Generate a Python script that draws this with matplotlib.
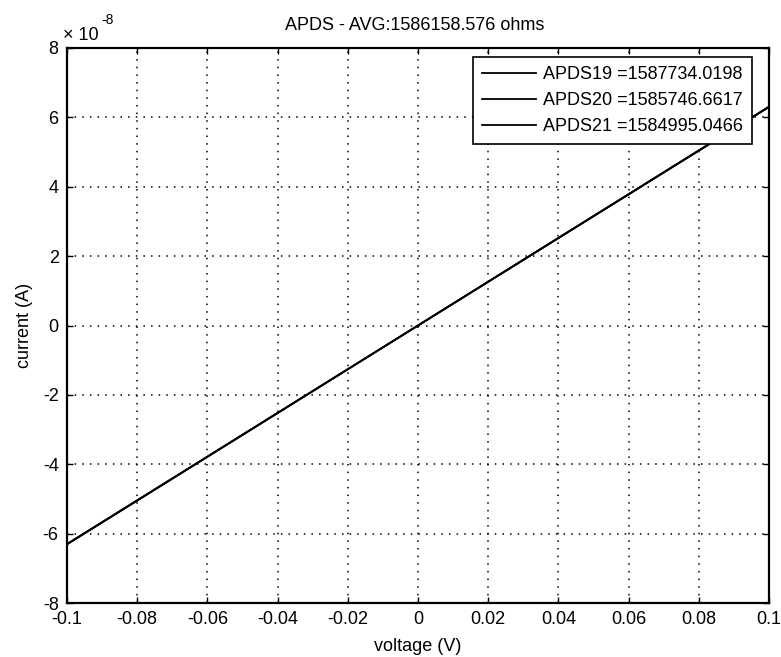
import numpy as np
import matplotlib.pyplot as plt
from matplotlib.ticker import FuncFormatter

plt.rcParams['font.family'] = ['Liberation Sans', 'DejaVu Sans']
plt.rcParams['axes.unicode_minus'] = False

# sweep (V) and currents (A) for each device
voltage = [-0.1, -0.05, 0.0, 0.05, 0.1]
apds19 = [-6.298e-8, -3.149e-8, 0.0, 3.149e-8, 6.298e-8]
apds20 = [-6.306e-8, -3.153e-8, 0.0, 3.153e-8, 6.306e-8]
apds21 = [-6.309e-8, -3.155e-8, 0.0, 3.155e-8, 6.309e-8]
names = ['APDS19 =1587734.0198', 'APDS20 =1585746.6617', 'APDS21 =1584995.0466']
xticks = [-0.1, -0.08, -0.06, -0.04, -0.02, 0, 0.02, 0.04, 0.06, 0.08, 0.1]
xticklabels = ['-0.1', '-0.08', '-0.06', '-0.04', '-0.02', '0',
               '0.02', '0.04', '0.06', '0.08', '0.1']
title = 'APDS - AVG:1586158.576 ohms'

fig = plt.figure(figsize=(7.81, 6.57), dpi=100)
ax = fig.add_axes([67 / 781, 1 - 603 / 657, 702 / 781, 555 / 657])

for cur, name in zip([apds19, apds20, apds21], names):
    ax.plot(voltage, cur, color='black', linewidth=1.3, label=name)

ax.set_xlim(-0.1, 0.1)
ax.set_ylim(-8e-8, 8e-8)
ax.set_xticks(xticks)
ax.set_xticklabels(xticklabels)
ax.set_yticks(np.arange(-8, 9, 2) * 1e-8)
ax.yaxis.set_major_formatter(FuncFormatter(lambda v, p: '%d' % round(v / 1e-8)))

ax.tick_params(direction='in', top=True, right=True, labelsize=13, length=4, width=1)
ax.tick_params(axis='x', pad=6)
ax.tick_params(axis='y', pad=6)
ax.grid(True, color='black', linewidth=1.1, dashes=(1, 4))
for s in ax.spines.values():
    s.set_linewidth(1.6)

ax.set_xlabel('voltage (V)', fontsize=13, labelpad=7)
ax.set_ylabel('current (A)', fontsize=13, labelpad=7)

# title and exponent placed as in the MATLAB figure
fig.text(0.531, 1 - 25 / 657, title, fontsize=13, ha='center', va='center')
fig.text(63 / 781, 1 - 35 / 657, '\u00d7 10', fontsize=13, ha='left', va='center')
fig.text(101 / 781, 1 - 20 / 657, '-8', fontsize=10, ha='left', va='center')

leg = ax.legend(loc='upper right', bbox_to_anchor=((752 - 67) / 702, (603 - 57) / 555),
                fontsize=13, frameon=True, fancybox=False, edgecolor='black',
                framealpha=1, borderaxespad=0, borderpad=0.5,
                handlelength=3.0, handletextpad=0.4, labelspacing=0.5)
leg.get_frame().set_linewidth(1.2)

fig.savefig('out.png', dpi=100)
